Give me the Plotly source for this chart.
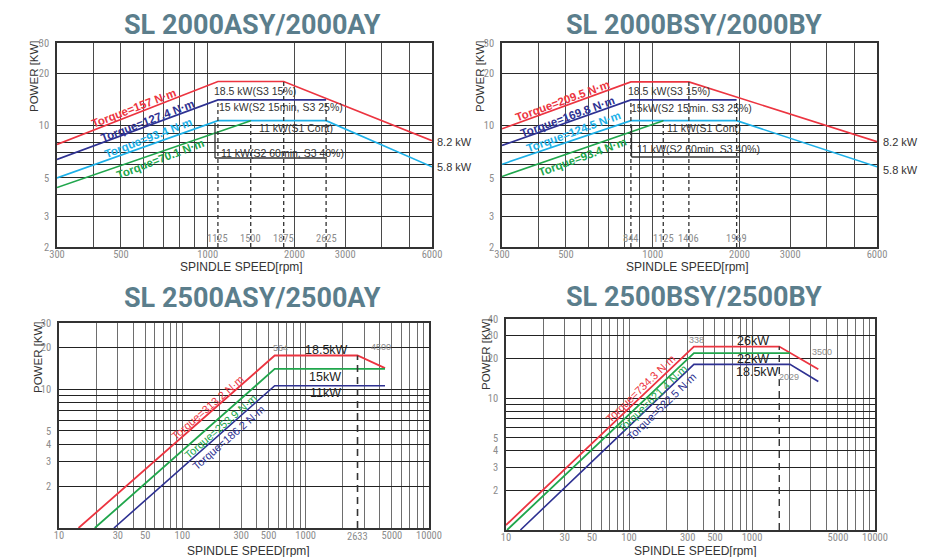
import math
import plotly.graph_objects as go

W, H = 930, 557

# ---------------- data ----------------
RED, NAVY, CYAN, GREEN = "#ec3440", "#2e3192", "#1cb0e8", "#20a64c"

# Chart 1: SL 2000ASY/2000AY
c1_red_x = [300, 1085, 1835, 6000]
c1_red_y = [7.8, 18.0, 18.0, 8.2]
c1_navy_x = [300, 1085, 2575]
c1_navy_y = [6.4, 14.1, 14.1]
c1_cyan_x = [300, 1085, 2575, 6000]
c1_cyan_y = [5.0, 10.7, 10.7, 5.8]
c1_green_x = [300, 1410]
c1_green_y = [4.4, 10.7]
c1_dash_x = [1085, 1410, 1835, 2575]
c1_dash_top = [14.1, 10.7, 18.0, 14.1]
c1_dash_labels = ["1125", "1500", "1875", "2625"]
c1_torque = ["Torque=157 N·m", "Torque=127.4 N·m", "Torque=93.4 N·m", "Torque=70.1 N·m"]

# Chart 2: SL 2000BSY/2000BY
c2_red_x = [300, 840, 1335, 6000]
c2_red_y = [9.6, 17.9, 17.9, 8.1]
c2_navy_x = [300, 840, 1955]
c2_navy_y = [7.7, 14.1, 14.1]
c2_cyan_x = [300, 840, 1955, 6000]
c2_cyan_y = [6.0, 10.7, 10.7, 5.8]
c2_green_x = [300, 1088]
c2_green_y = [5.1, 10.7]
c2_dash_x = [840, 1088, 1335, 1955]
c2_dash_top = [14.1, 10.7, 17.9, 14.1]
c2_dash_labels = ["844", "1125", "1406", "1969"]
c2_torque = ["Torque=209.5 N·m", "Torque=169.8 N·m", "Torque=124.5 N·m", "Torque=93.4 N·m"]

# Chart 3: SL 2500ASY/2500AY
c3_red_x = [14.4, 561, 2633, 4400]
c3_red_y = [1.0, 17.5, 17.5, 14.2]
c3_green_x = [19.5, 561, 4400]
c3_green_y = [1.0, 14.0, 14.0]
c3_navy_x = [27.9, 561, 4400]
c3_navy_y = [1.0, 10.6, 10.6]
c3_dash_x = [2633]
c3_dash_top = [17.5]
c3_torque = ["Torque=313.2 N·m", "Torque=253.9 N·m", "Torque=186.2 N·m"]

# Chart 4: SL 2500BSY/2500BY
c4_red_x = [10, 337, 1666, 3460]
c4_red_y = [1.09, 24.7, 24.7, 16.6]
c4_green_x = [10.2, 337, 2036]
c4_green_y = [1.0, 22.0, 22.0]
c4_navy_x = [13.1, 337, 2036, 3460]
c4_navy_y = [1.0, 18.1, 18.1, 13.4]
c4_dash_x = [1666]
c4_dash_top = [24.7]
c4_torque = ["Torque=734.3 N·m", "Torque=621.4 N·m", "Torque=522.5 N·m"]

titles = ["SL 2000ASY/2000AY", "SL 2000BSY/2000BY", "SL 2500ASY/2500AY", "SL 2500BSY/2500BY"]

# tick sets
x_ticks_12 = [300, 400, 500, 600, 700, 800, 900, 1000, 2000, 3000, 4000, 5000, 6000]
x_lab_12 = [300, 500, 1000, 2000, 3000, 6000]
y_ticks_12 = [2, 3, 4, 5, 6, 7, 8, 9, 10, 20, 30]
y_lab_12 = [2, 3, 5, 10, 20, 30]
x_ticks_34 = [m * 10 ** e for e in range(1, 4) for m in range(1, 10)] + [10000]
x_lab_34 = [10, 30, 50, 100, 300, 500, 1000, 5000, 10000]
y_ticks_3 = [2, 3, 4, 5, 6, 7, 8, 9, 10, 20, 30]
y_lab_3 = [2, 3, 4, 5, 10, 20, 30]
y_ticks_4 = [2, 3, 4, 5, 6, 7, 8, 9, 10, 20, 30, 40]
y_lab_4 = [2, 3, 4, 5, 10, 20, 30, 40]

# ---------------- layout helpers ----------------
def px(x):
    return x / W

def py(y):
    return 1 - y / H

# plot rectangles in pixels (left, top, right, bottom)
rects = [(57, 43, 432, 247), (502, 43, 877, 247), (59, 323, 429, 528), (506, 319, 875, 530)]

fig = go.Figure()

def add_line(xs, ys, color, k, width=1.6, dash=None):
    fig.add_trace(go.Scatter(
        x=xs, y=ys, mode="lines", xaxis=f"x{k if k > 1 else ''}", yaxis=f"y{k if k > 1 else ''}",
        line=dict(color=color, width=width, dash=dash), showlegend=False, hoverinfo="skip"))

# chart 1
add_line(c1_red_x, c1_red_y, RED, 1)
add_line(c1_navy_x, c1_navy_y, NAVY, 1)
add_line(c1_cyan_x, c1_cyan_y, CYAN, 1)
add_line(c1_green_x, c1_green_y, GREEN, 1)
for dx, dt in zip(c1_dash_x, c1_dash_top):
    add_line([dx, dx], [2, dt], "#333333", 1, width=1.3, dash="4px,3px")
# chart 2
add_line(c2_red_x, c2_red_y, RED, 2)
add_line(c2_navy_x, c2_navy_y, NAVY, 2)
add_line(c2_cyan_x, c2_cyan_y, CYAN, 2)
add_line(c2_green_x, c2_green_y, GREEN, 2)
for dx, dt in zip(c2_dash_x, c2_dash_top):
    add_line([dx, dx], [2, dt], "#333333", 2, width=1.3, dash="4px,3px")
# chart 3
add_line(c3_red_x, c3_red_y, RED, 3, width=1.8)
add_line(c3_green_x, c3_green_y, GREEN, 3, width=1.8)
add_line(c3_navy_x, c3_navy_y, NAVY, 3, width=1.6)
for dx, dt in zip(c3_dash_x, c3_dash_top):
    add_line([dx, dx], [1, dt], "#333333", 3, width=1.6, dash="7px,5px")
# chart 4
add_line(c4_red_x, c4_red_y, RED, 4, width=1.8)
add_line(c4_green_x, c4_green_y, GREEN, 4, width=1.8)
add_line(c4_navy_x, c4_navy_y, NAVY, 4, width=1.6)
for dx, dt in zip(c4_dash_x, c4_dash_top):
    add_line([dx, dx], [1, dt], "#333333", 4, width=1.4, dash="7px,5px")

NARROW = "Liberation Sans Narrow, Roboto Condensed, Liberation Sans"
TICKFONT = dict(family=NARROW, size=10.5, color="#8c8c8c")

def axis_pair(k, xr, yr, xt, xl, yt, yl, vgrid, hgrid):
    l, t, r, b = rects[k - 1]
    xa = dict(type="log", range=[math.log10(xr[0]), math.log10(xr[1])],
              domain=[px(l), px(r)], anchor=f"y{k if k > 1 else ''}",
              tickvals=xt, ticktext=[str(v) if v in xl else "" for v in xt],
              showgrid=True, gridcolor=vgrid, gridwidth=1.4, ticks="",
              showline=True, linecolor="#333333", linewidth=1.5, mirror=True,
              tickfont=TICKFONT, zeroline=False, fixedrange=True, ticklabelstandoff=-3,
              automargin=False)
    ya = dict(type="log", range=[math.log10(yr[0]), math.log10(yr[1])],
              domain=[py(b), py(t)], anchor=f"x{k if k > 1 else ''}",
              tickvals=yt, ticktext=[str(v) if v in yl else "" for v in yt],
              showgrid=True, gridcolor=hgrid, gridwidth=1.4, ticks="",
              showline=True, linecolor="#333333", linewidth=1.5, mirror=True,
              tickfont=TICKFONT, zeroline=False, fixedrange=True, ticklabelstandoff=4,
              automargin=False)
    return xa, ya

layout = {}
specs = [
    (1, (300, 6000), (2, 30), x_ticks_12, x_lab_12, y_ticks_12, y_lab_12, "#4a4a4a", "#2a2a2a"),
    (2, (300, 6000), (2, 30), x_ticks_12, x_lab_12, y_ticks_12, y_lab_12, "#4a4a4a", "#2a2a2a"),
    (3, (10, 10000), (1, 30), x_ticks_34, x_lab_34, y_ticks_3, y_lab_3, "#6e6e6e", "#222222"),
    (4, (10, 10000), (1, 40), x_ticks_34, x_lab_34, y_ticks_4, y_lab_4, "#6e6e6e", "#222222"),
]
for s in specs:
    xa, ya = axis_pair(*s)
    k = s[0]
    layout[f"xaxis{k if k > 1 else ''}"] = xa
    layout[f"yaxis{k if k > 1 else ''}"] = ya

ann = []

def text(x, y, t, size=11, color="#222222", angle=0, xanchor="center", family="Liberation Sans", bold=False):
    ann.append(dict(x=px(x), y=py(y), xref="paper", yref="paper", text=t, showarrow=False,
                    xanchor=xanchor, yanchor="middle", textangle=angle,
                    font=dict(family=family, size=size, color=color, weight="bold" if bold else "normal")))

# titles
for (cx, cy), t in zip([(252, 25), (694, 25), (252, 298), (694, 297)], titles):
    text(cx, cy, t, size=27, color="#5b7e8c", family="Roboto", bold=True)
# axis titles
for (cx, cy) in [(34, 76), (480, 76), (38, 357), (486, 354)]:
    text(cx, cy, "POWER [KW]", size=11.5, color="#333333", angle=-90)
for (cx, cy) in [(242, 267), (687, 267), (248, 551), (695, 551)]:
    text(cx, cy, "SPINDLE SPEED[rpm]", size=12, color="#333333")

# dashed speed labels (charts 1 & 2)
for k, xs, labs in [(1, c1_dash_x, c1_dash_labels), (2, c2_dash_x, c2_dash_labels)]:
    for v, lab in zip(xs, labs):
        ann.append(dict(x=math.log10(v), y=math.log10(2), xref=f"x{k if k > 1 else ''}",
                        yref=f"y{k if k > 1 else ''}", text=lab, showarrow=False,
                        xanchor="center", yanchor="bottom", yshift=0,
                        font=dict(family=NARROW, size=10.5, color="#8c8c8c")))

# end power labels
for (x0, y0, t) in [(435, 142, "8.2 kW"), (435, 167, "5.8 kW"), (881, 142, "8.2 kW"), (881, 170, "5.8 kW")]:
    text(x0, y0, t, size=11, color="#333333", xanchor="left")

# rating texts charts 1 & 2
for (x0, y0, t) in [(212, 91, "18.5 kW(S3 15%)"), (217, 107, "15 kW(S2 15min, S3 25%)"),
                    (257, 128, "11 kW(S1 Cont)"), (219, 153, "11 kW(S2 60min, S3 40%)"),
                    (626, 91, "18.5 kW(S3 15%)"), (629, 108, "15kW(S2 15min. S3 25%)"),
                    (665, 128, "11 kW(S1 Cont)"), (635, 149, "11 kW(S2 60min. S3 40%)")]:
    text(x0, y0, t, size=10.5, color="#333333", xanchor="left")

# torque labels
cols4 = [RED, NAVY, CYAN, GREEN]
for (cx, cy), t, c in zip([(134, 108), (147, 121), (148, 138), (160, 159)], c1_torque, cols4):
    text(cx, cy, t, size=11.5, color=c, angle=-21, bold=True)
for (cx, cy), t, c in zip([(562, 101), (567, 117), (573, 132), (582, 157)], c2_torque, cols4):
    text(cx, cy, t, size=11.5, color=c, angle=-20, bold=True)
for (cx, cy), t, c in zip([(207, 408), (220, 427), (228, 438)], c3_torque, [RED, GREEN, NAVY]):
    text(cx, cy, t, size=11, color=c, angle=-41)
for (cx, cy), t, c in zip([(640, 389), (652, 399), (661, 407)], c4_torque, [RED, GREEN, NAVY]):
    text(cx, cy, t, size=11, color=c, angle=-44)

# chart 3 & 4 texts
for (cx, cy, t) in [(326, 350, "18.5kW"), (325, 377, "15kW"), (325, 393, "11kW"),
                    (753, 341, "26kW"), (753, 359, "22kW"), (757, 372, "18.5kW")]:
    text(cx, cy, t, size=12.5, color="#222222")
for (cx, cy, t) in [(280, 348, "564"), (381, 347, "4500"), (696, 340, "338"),
                    (822, 352, "3500"), (789, 377, "2029")]:
    text(cx, cy, t, size=9, color="#8c8c8c")
# 2633 tick label under chart 3
ann.append(dict(x=math.log10(2633), y=py(536), xref="x3", yref="paper", text="2633",
                showarrow=False, xanchor="center", yanchor="middle",
                font=dict(family=NARROW, size=10.5, color="#8c8c8c")))

# bracket shapes
shapes = []
def seg(x0, y0, x1, y1):
    shapes.append(dict(type="line", xref="paper", yref="paper", x0=px(x0), y0=py(y0),
                       x1=px(x1), y1=py(y1), line=dict(color="#333333", width=1.3)))
seg(215, 123, 215, 158)
seg(215, 158, 327, 158)
seg(631.5, 125, 631.5, 157)
seg(631.5, 157, 740, 157)

fig.update_layout(template="none", width=W, height=H, margin=dict(l=0, r=0, t=0, b=0, autoexpand=False),
                  paper_bgcolor="white", plot_bgcolor="white",
                  annotations=ann, shapes=shapes, **layout)

fig.write_html("out.html", config={"displayModeBar": False},
               post_script="document.body.style.margin='0px';document.body.style.overflow='hidden';")
